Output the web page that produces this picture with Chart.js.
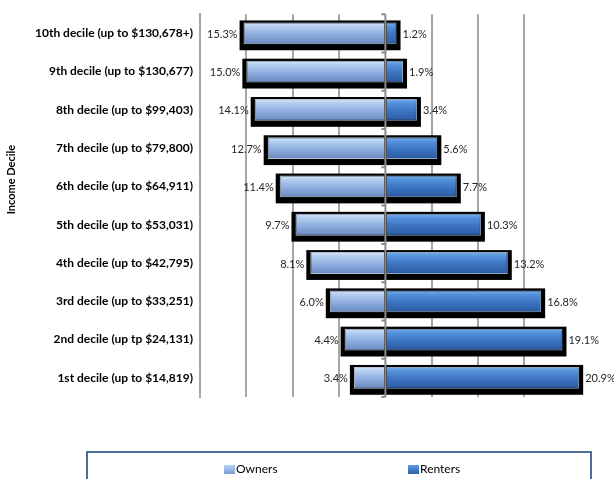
<!DOCTYPE html>
<html>
<head>
<meta charset="utf-8">
<script src="https://cdn.jsdelivr.net/npm/chart.js@4.4.1/dist/chart.umd.min.js"></script>
<style>
    html, body { margin: 0; padding: 0; background: #fff; overflow: hidden; }
    #wrap { position: relative; width: 614px; height: 479px; overflow: hidden; }
    #barChart { display: block; }
    #legend {
        position: absolute; left: 86px; top: 451px; width: 506px; height: 40px;
        box-sizing: border-box;
        border: 2px solid #4a6c9b; font: 12px Lato, sans-serif; color: #000;
    }
    #legend .item { position: absolute; top: 9px; line-height: 14px; white-space: nowrap; }
    #legend .sw { display: inline-block; width: 11px; height: 9px; margin-right: 1px; vertical-align: -1px; }
</style>
</head>
<body>
<div id="wrap">
    <canvas id="barChart" width="614" height="479"></canvas>
    <div id="legend">
        <span class="item" style="left:136px"><span class="sw" style="background:linear-gradient(#b9d2f2,#7d9dd2)"></span>Owners</span>
        <span class="item" style="left:320px"><span class="sw" style="background:linear-gradient(#5f9be0,#2d5fa8)"></span>Renters</span>
    </div>
</div>
<script>
const deciles = [
    "10th decile (up to $130,678+)",
    "9th decile (up to $130,677)",
    "8th decile (up to $99,403)",
    "7th decile (up to $79,800)",
    "6th decile (up to $64,911)",
    "5th decile (up to $53,031)",
    "4th decile (up to $42,795)",
    "3rd decile (up to $33,251)",
    "2nd decile (up tp $24,131)",
    "1st decile (up to $14,819)"
];
const owners = [15.3, 15.0, 14.1, 12.7, 11.4, 9.7, 8.1, 6.0, 4.4, 3.4];
const renters = [1.2, 1.9, 3.4, 5.6, 7.7, 10.3, 13.2, 16.8, 19.1, 20.9];
const axisTitle = "Income Decile";

const BAR_PCT = 0.57;

function barGradient(ctx, stops) {
    const chart = ctx.chart;
    const area = chart.chartArea;
    if (!area) return stops[1][1];
    const yScale = chart.scales.y;
    const y = yScale.getPixelForValue(ctx.dataIndex);
    const half = (area.bottom - area.top) / deciles.length * BAR_PCT / 2;
    const g = chart.ctx.createLinearGradient(0, y - half, 0, y + half);
    stops.forEach(s => g.addColorStop(s[0], s[1]));
    return g;
}

const ownerStops = [[0, "#d3e4f8"], [0.2, "#b3cdf0"], [0.55, "#8eaddf"], [0.9, "#7192c8"], [1, "#5f7fb4"]];
const renterStops = [[0, "#79b0ec"], [0.2, "#5391da"], [0.55, "#3c74c0"], [0.9, "#2f60a8"], [1, "#284f8c"]];

// black frame behind each pair of bars, zero line on top, value labels
const decor = {
    id: "decor",
    beforeDatasetsDraw(chart) {
        const c = chart.ctx;
        const o = chart.getDatasetMeta(0).data;
        const r = chart.getDatasetMeta(1).data;
        c.save();
        c.fillStyle = "#000";
        o.forEach((bar, i) => {
            const left = bar.x - 4;
            const right = r[i].x + 4;
            const top = bar.y - bar.height / 2 - 2;
            const bottom = bar.y + bar.height / 2 + 6;
            c.fillRect(left, top, right - left, bottom - top);
        });
        c.restore();
    },
    afterDatasetsDraw(chart) {
        const c = chart.ctx;
        const area = chart.chartArea;
        const x0 = chart.scales.x.getPixelForValue(0);
        const yScale = chart.scales.y;
        c.save();
        c.strokeStyle = "#8c8c8c";
        c.lineWidth = 2;
        c.beginPath();
        c.moveTo(x0, area.top);
        c.lineTo(x0, area.bottom);
        const step = (area.bottom - area.top) / deciles.length;
        for (let i = 0; i <= deciles.length; i++) {
            const ty = area.top + step * i;
            c.moveTo(x0 - 4, ty);
            c.lineTo(x0, ty);
        }
        c.stroke();

        c.font = "11px Lato, sans-serif";
        c.fillStyle = "#262626";
        c.textBaseline = "middle";
        const o = chart.getDatasetMeta(0).data;
        const r = chart.getDatasetMeta(1).data;
        o.forEach((bar, i) => {
            c.textAlign = "right";
            c.fillText(owners[i].toFixed(1) + "%", bar.x - 6, bar.y + 1);
            c.textAlign = "left";
            c.fillText(renters[i].toFixed(1) + "%", r[i].x + 6, r[i].y + 1);
        });

        c.translate(11, yScale.getPixelForValue(3.82));
        c.rotate(-Math.PI / 2);
        c.font = "bold 11px Lato, sans-serif";
        c.fillStyle = "#000";
        c.textAlign = "center";
        c.fillText(axisTitle, 0, 0);
        c.restore();
    }
};

new Chart(document.getElementById("barChart"), {
    type: "bar",
    data: {
        labels: deciles,
        datasets: [{
            label: "Owners",
            data: owners.map(v => -v),
            backgroundColor: ctx => barGradient(ctx, ownerStops),
            borderColor: "rgba(205,218,238,0.9)",
            borderWidth: 1,
            barPercentage: BAR_PCT,
            categoryPercentage: 1
        }, {
            label: "Renters",
            data: renters,
            backgroundColor: ctx => barGradient(ctx, renterStops),
            borderColor: "rgba(160,185,215,0.9)",
            borderWidth: 1,
            barPercentage: BAR_PCT,
            categoryPercentage: 1
        }]
    },
    options: {
        indexAxis: "y",
        responsive: false,
        animation: false,
        layout: { padding: { top: 8, right: 20, bottom: 82, left: 0 } },
        plugins: {
            legend: { display: false },
            tooltip: { enabled: false }
        },
        scales: {
            x: {
                stacked: true,
                min: -20,
                max: 22.5,
                ticks: { display: false, stepSize: 5 },
                border: { display: false },
                grid: {
                    drawTicks: false,
                    lineWidth: 2,
                    color: ctx => (ctx.tick && ctx.tick.value % 5 === 0 && ctx.tick.value !== 0) ? "#a6a6a6" : "rgba(0,0,0,0)"
                },
                afterFit: s => { s.height = 0; }
            },
            y: {
                stacked: true,
                grid: { display: false, drawTicks: false },
                border: { display: true, color: "#a6a6a6", width: 2 },
                ticks: {
                    padding: 7,
                    color: "#000",
                    font: { family: "Lato", size: 12, weight: "bold" }
                },
                afterFit: s => { s.width = 200; }
            }
        }
    },
    plugins: [decor]
});
</script>
</body>
</html>
